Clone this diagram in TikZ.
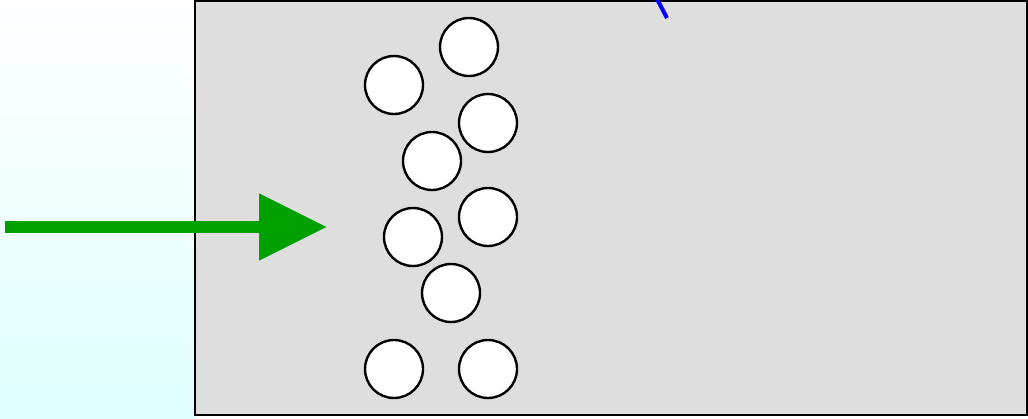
\documentclass[tikz,border=0pt]{standalone}
\usepackage{tikz}
\usetikzlibrary{arrows.meta,positioning}
\definecolor{chgray}{RGB}{222,222,222}
\definecolor{chcyan}{RGB}{224,255,255}
\definecolor{chgreen}{RGB}{0,160,0}

\begin{document}
\begin{tikzpicture}[x=0.5pt,y=-0.5pt,
    ball/.style={draw,line width=1.2pt,fill=white,circle,minimum size=29pt,inner sep=0pt}]
    \useasboundingbox (0,0) rectangle (1028,418);
    \shade[top color=white,bottom color=chcyan] (0,0) rectangle (196,418);
    \draw[line width=1.4pt,fill=chgray] (195,1) rectangle (1027,415);
    \node[ball] (b1) at (469,47) {};
    \node[ball] (b2) at (394,85) {};
    \node[ball] (b3) at (488,123) {};
    \node[ball] (b4) at (432,161) {};
    \node[ball] (b5) at (488,217) {};
    \node[ball] (b6) at (413,237) {};
    \node[ball] (b7) at (451,293) {};
    \node[ball] (b8) at (394,369) {};
    \node[ball] (b9) at (488,369) {};
    \coordinate (in) at (5,227);
    \coordinate (tip) at (327,227);
    \draw[-{Triangle[length=34pt,width=32pt]},line width=6pt,chgreen] (in)--(tip);
    \coordinate (m1) at (657,-1);
    \coordinate (m2) at (667,18);
    \draw[blue,line width=2pt] (m1)--(m2);
  \end{tikzpicture}
\end{document}
